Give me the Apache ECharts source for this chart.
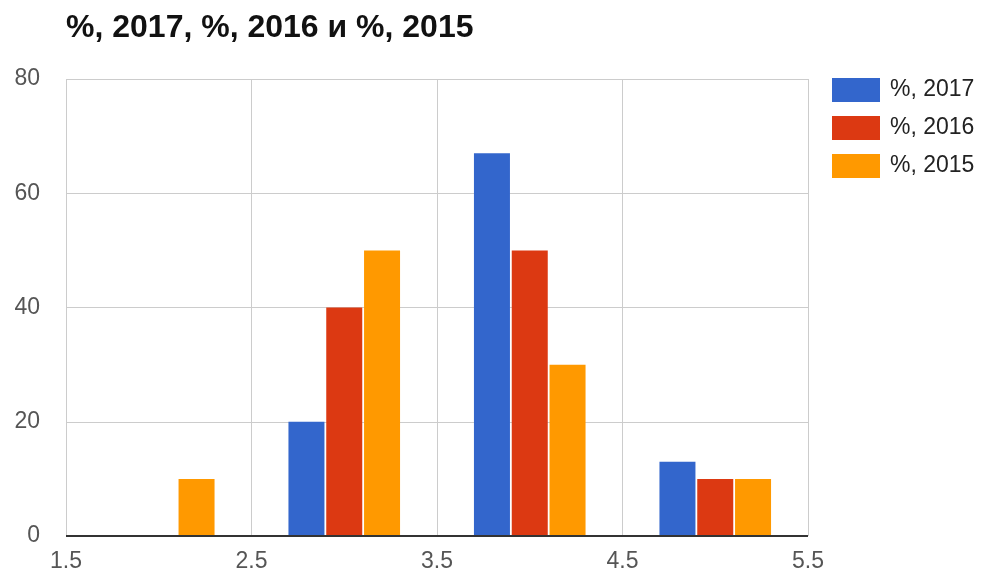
<!DOCTYPE html>
<html>
<head>
<meta charset="utf-8">
<script src="https://cdn.jsdelivr.net/npm/echarts@6/dist/echarts.min.js"></script>
<style>html,body{margin:0;padding:0;background:#fff;}#c{width:982px;height:574px;}</style>
</head>
<body>
<div id="c"></div>
<script>
const titleText = '%, 2017, %, 2016 и %, 2015';
const xPositions = [2, 3, 4, 5];
const seriesNames = ['%, 2017', '%, 2016', '%, 2015'];
const values2017 = [0, 20, 67, 13];
const values2016 = [0, 40, 50, 10];
const values2015 = [10, 50, 30, 10];
const colors = ['#3366cc', '#dc3912', '#ff9900'];

const allValues = [values2017, values2016, values2015];
const chart = echarts.init(document.getElementById('c'));
const font = 'Liberation Sans, Arial, sans-serif';
chart.setOption({
  animation: false,
  title: {
    text: titleText, left: 61, top: 7,
    textStyle: { fontFamily: font, fontSize: 32, fontWeight: 'bold', color: '#111' }
  },
  legend: {
    orient: 'vertical', left: 827, top: 73,
    itemWidth: 48, itemHeight: 24, itemGap: 14,
    icon: 'rect',
    textStyle: { fontFamily: font, fontSize: 23, color: '#222', padding: [0, 0, 0, 5] },
    data: seriesNames
  },
  grid: { left: 66, right: 174, top: 79, bottom: 38 },
  xAxis: {
    type: 'value', min: 1.5, max: 5.5, interval: 1,
    axisLine: { show: false }, axisTick: { show: false },
    splitLine: { show: true, lineStyle: { color: '#cccccc', width: 1 } },
    axisLabel: { fontFamily: font, fontSize: 23, color: '#555', margin: 14, showMinLabel: true, showMaxLabel: true }
  },
  yAxis: {
    type: 'value', min: 0, max: 80, interval: 20,
    axisLine: { show: false }, axisTick: { show: false },
    splitLine: { lineStyle: { color: '#cccccc', width: 1 } },
    axisLabel: { fontFamily: font, fontSize: 23, color: '#555', margin: 26 }
  },
  series: seriesNames.map((n, i) => ({
    name: n, type: 'bar',
    barWidth: 36, barGap: '5%',
    itemStyle: { color: colors[i] },
    data: xPositions.map((x, j) => [x, allValues[i][j]]),
    markLine: i === 0 ? {
      silent: true, symbol: 'none', label: { show: false },
      lineStyle: { color: '#333', width: 2, type: 'solid' },
      data: [{ yAxis: 0 }]
    } : undefined
  }))
});
</script>
</body>
</html>
